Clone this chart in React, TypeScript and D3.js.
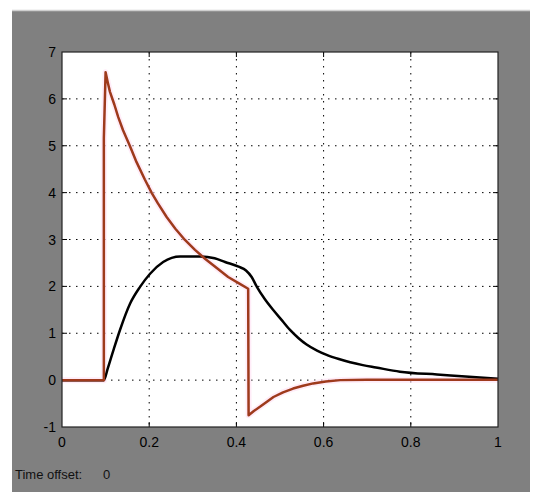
import React from "react";
import * as d3 from "d3";

// values
const redT = [0, 0.096, 0.096, 0.1, 0.105, 0.11, 0.12, 0.129, 0.14, 0.156, 0.171, 0.19, 0.206, 0.22, 0.24, 0.26, 0.282, 0.305, 0.328, 0.355, 0.381, 0.405, 0.427, 0.428, 0.44, 0.454, 0.47, 0.485, 0.507, 0.53, 0.553, 0.576, 0.605, 0.638, 0.7, 0.85, 1.0];
const redV = [0, 0, 5.16, 6.57, 6.35, 6.15, 5.88, 5.61, 5.33, 4.99, 4.65, 4.28, 3.99, 3.77, 3.48, 3.23, 2.99, 2.78, 2.59, 2.39, 2.2, 2.07, 1.95, -0.75, -0.66, -0.57, -0.46, -0.36, -0.26, -0.18, -0.12, -0.07, -0.03, 0, 0.01, 0.01, 0.01];

const blackT = [0, 0.096, 0.105, 0.118, 0.133, 0.156, 0.179, 0.202, 0.232, 0.271, 0.317, 0.35, 0.374, 0.405, 0.422, 0.435, 0.447, 0.465, 0.485, 0.505, 0.523, 0.542, 0.561, 0.585, 0.607, 0.635, 0.661, 0.69, 0.72, 0.775, 0.86, 0.917, 1.0];
const blackV = [0, 0, 0.25, 0.64, 1.07, 1.63, 1.99, 2.27, 2.52, 2.64, 2.64, 2.6, 2.52, 2.42, 2.34, 2.2, 1.99, 1.73, 1.49, 1.27, 1.07, 0.9, 0.76, 0.63, 0.54, 0.45, 0.38, 0.32, 0.27, 0.18, 0.12, 0.085, 0.03];

const xTicks = [0, 0.2, 0.4, 0.6, 0.8, 1];
const yTicks = [-1, 0, 1, 2, 3, 4, 5, 6, 7];

export default function App() {
  const left = 62;
  const right = 498;
  const top = 52;
  const bottom = 427;

  const x = d3.scaleLinear().domain([0, 1]).range([left, right]);
  const y = d3.scaleLinear().domain([-1, 7]).range([bottom, top]);

  const redPath = d3
    .line<[number, number]>()
    .x((d) => x(d[0]))
    .y((d) => y(d[1]))(redT.map((t, i) => [t, redV[i]]));
  const blackPath = d3
    .line<[number, number]>()
    .x((d) => x(d[0]))
    .y((d) => y(d[1]))
    .curve(d3.curveMonotoneX)(blackT.map((t, i) => [t, blackV[i]]));

  const font = "Arial, 'Liberation Sans', sans-serif";

  return (
    <svg
      width={550}
      height={500}
      style={{ position: "absolute", left: 0, top: 0, background: "#fff" }}
    >
      <rect x={12} y={10} width={518} height={482} fill="#808080" />
      <line x1={12} x2={530} y1={10.5} y2={10.5} stroke="#cfcfcf" strokeWidth={1.5} />
      <rect x={left} y={top} width={right - left} height={bottom - top} fill="#fff" />

      {xTicks.slice(1, -1).map((t) => (
        <line
          key={"gx" + t}
          x1={x(t)}
          x2={x(t)}
          y1={top}
          y2={bottom}
          stroke="#000"
          strokeWidth={1}
          strokeDasharray="1.5,5.5"
        />
      ))}
      {yTicks.slice(1, -1).map((v) => (
        <line
          key={"gy" + v}
          x1={left}
          x2={right}
          y1={y(v)}
          y2={y(v)}
          stroke="#000"
          strokeWidth={1}
          strokeDasharray="1.5,5.5"
        />
      ))}

      {/* ticks on all sides */}
      {xTicks.slice(1, -1).map((t) => (
        <g key={"tx" + t}>
          <line x1={x(t)} x2={x(t)} y1={top} y2={top + 5} stroke="#000" />
          <line x1={x(t)} x2={x(t)} y1={bottom} y2={bottom - 5} stroke="#000" />
        </g>
      ))}
      {yTicks.slice(1, -1).map((v) => (
        <g key={"ty" + v}>
          <line x1={left} x2={left + 5} y1={y(v)} y2={y(v)} stroke="#000" />
          <line x1={right} x2={right - 5} y1={y(v)} y2={y(v)} stroke="#000" />
        </g>
      ))}

      <path d={redPath || ""} fill="none" stroke="#ffe0f4" strokeWidth={6} strokeLinejoin="round" opacity={0.6} />
      <path d={blackPath || ""} fill="none" stroke="#000" strokeWidth={2.5} strokeLinejoin="round" />
      <path d={redPath || ""} fill="none" stroke="#9e3a1c" strokeWidth={2.5} strokeLinejoin="round" />

      <rect
        x={left}
        y={top}
        width={right - left}
        height={bottom - top}
        fill="none"
        stroke="#222"
        strokeWidth={1.2}
      />

      {yTicks.map((v) => (
        <text
          key={"ly" + v}
          x={left - 6}
          y={y(v)}
          textAnchor="end"
          dominantBaseline="central"
          fontFamily={font}
          fontSize={14}
          fill="#000"
        >
          {v}
        </text>
      ))}
      {xTicks.map((t) => (
        <text
          key={"lx" + t}
          x={x(t)}
          y={bottom + 15}
          textAnchor="middle"
          dominantBaseline="central"
          fontFamily={font}
          fontSize={14}
          fill="#000"
        >
          {t}
        </text>
      ))}
      <text x={15} y={479} fontFamily={font} fontSize={13} fill="#111">
        Time offset:
      </text>
      <text x={103} y={479} fontFamily={font} fontSize={13} fill="#111">
        0
      </text>
    </svg>
  );
}
